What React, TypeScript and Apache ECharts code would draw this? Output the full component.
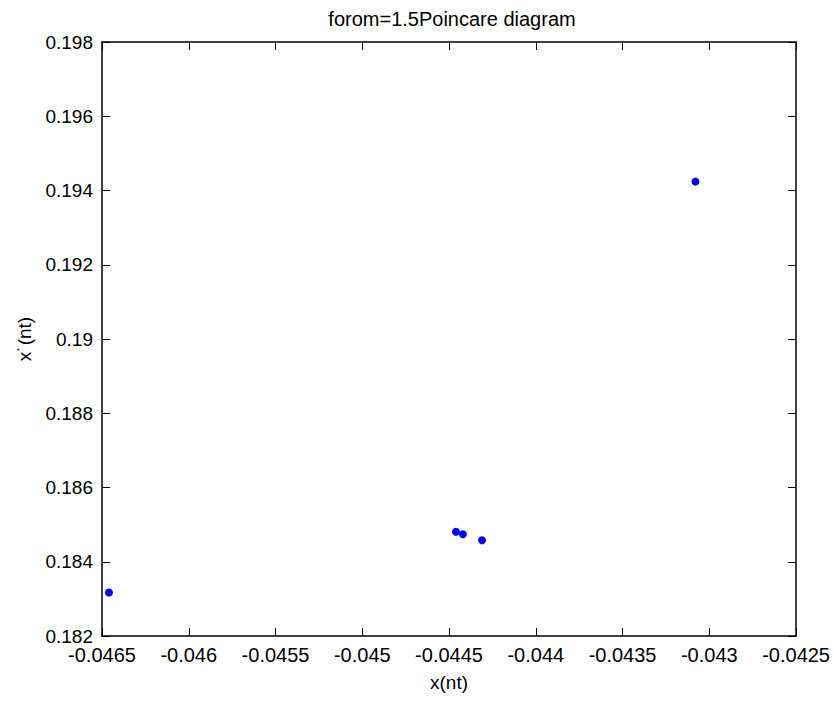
import React, { useEffect, useRef } from "react";
import * as echarts from "echarts";

const xValues = [-0.04646, -0.04446, -0.04442, -0.04431, -0.04308];
const yValues = [0.18317, 0.18481, 0.18474, 0.18458, 0.19424];
const titleText = "forom=1.5Poincare diagram";
const xName = "x(nt)";
const yName = "x˙(nt)";
const xMin = -0.0465;
const xMax = -0.0425;
const xStep = 0.0005;
const yMin = 0.182;
const yMax = 0.198;
const yStep = 0.002;

export default function App() {
  const ref = useRef<HTMLDivElement>(null);
  useEffect(() => {
    if (!ref.current) return;
    const chart = echarts.init(ref.current, null, { renderer: "svg" });
    const font = "Liberation Sans, Arial, sans-serif";
    const axisLine = { show: true, lineStyle: { color: "#000", width: 1.5 } };
    const tick = { show: true, inside: true, length: 8, lineStyle: { color: "#000" } };
    const fx = (v: number) => String(parseFloat(v.toFixed(5)));
    const fy = (v: number) => String(parseFloat(v.toFixed(4)));
    const data = xValues.map((x, i) => [x, yValues[i]]);
    chart.setOption({
      animation: false,
      backgroundColor: "#fff",
      title: {
        text: titleText,
        left: 447,
        top: 4,
        textAlign: "center",
        textStyle: { fontFamily: font, fontSize: 20, fontWeight: "normal", color: "#000" },
      },
      grid: { left: 102, right: 36, top: 42, bottom: 69, containLabel: false },
      xAxis: [
        {
          type: "value",
          min: xMin,
          max: xMax,
          interval: xStep,
          position: "bottom",
          axisLine,
          axisTick: tick,
          splitLine: { show: false },
          axisLabel: { formatter: fx, color: "#000", fontFamily: font, fontSize: 20, margin: 9 },
          name: xName,
          nameLocation: "middle",
          nameGap: 37,
          nameTextStyle: { color: "#000", fontFamily: font, fontSize: 19 },
        },
        {
          type: "value",
          min: xMin,
          max: xMax,
          interval: xStep,
          position: "top",
          axisLine,
          axisTick: tick,
          splitLine: { show: false },
          axisLabel: { show: false },
        },
      ],
      yAxis: [
        {
          type: "value",
          min: yMin,
          max: yMax,
          interval: yStep,
          position: "left",
          axisLine,
          axisTick: tick,
          splitLine: { show: false },
          axisLabel: { formatter: fy, color: "#000", fontFamily: font, fontSize: 19, margin: 9 },
          name: yName,
          nameLocation: "middle",
          nameGap: 68,
          nameTextStyle: { color: "#000", fontFamily: font, fontSize: 19 },
        },
        {
          type: "value",
          min: yMin,
          max: yMax,
          interval: yStep,
          position: "right",
          axisLine,
          axisTick: tick,
          splitLine: { show: false },
          axisLabel: { show: false },
        },
      ],
      series: [
        {
          type: "scatter",
          xAxisIndex: 0,
          yAxisIndex: 0,
          data,
          symbol: "circle",
          symbolSize: 8,
          itemStyle: { color: "#0000ff", opacity: 1 },
        },
      ],
    });
    return () => chart.dispose();
  }, []);
  return (
    <div
      ref={ref}
      style={{ position: "fixed", left: 0, top: 0, width: 833, height: 705 }}
    />
  );
}
